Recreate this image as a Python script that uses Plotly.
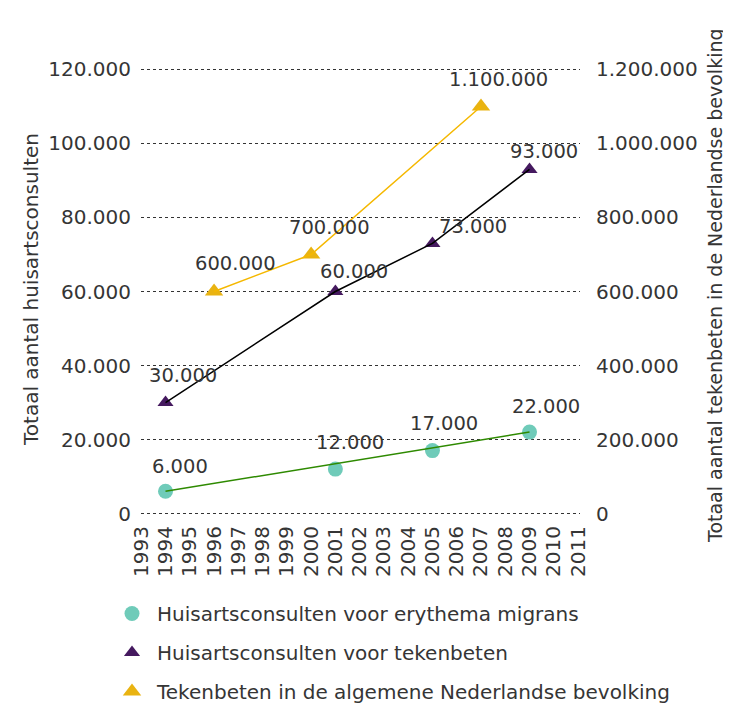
import plotly.graph_objects as go

# ---- data ----
year_ticks = list(range(1993, 2012))
em_years = [1994, 2001, 2005, 2009]
em_values = [6000, 12000, 17000, 22000]
tb_years = [1994, 2001, 2005, 2009]
tb_values = [30000, 60000, 73000, 93000]
pop_years = [1996, 2000, 2007]
pop_values = [600000, 700000, 1100000]
left_ticks = [0, 20000, 40000, 60000, 80000, 100000, 120000]
right_ticks = [0, 200000, 400000, 600000, 800000, 1000000, 1200000]

series_names = [
    "Huisartsconsulten voor erythema migrans",
    "Huisartsconsulten voor tekenbeten",
    "Tekenbeten in de algemene Nederlandse bevolking",
]
left_title = "Totaal aantal huisartsconsulten"
right_title = "Totaal aantal tekenbeten in de Nederlandse bevolking"

# ---- styles ----
FONT = "DejaVu Sans"
TXT = "#353535"
TEAL = "#6fcbb9"
PURPLE = "#45195f"
YELLOW = "#e9b311"
YELLOW_LINE = "#f5b800"
GREEN_LINE = "#2e8a00"


def fmt(v):
    return f"{v:,}".replace(",", ".")


fig = go.Figure()

# markers (also legend entries)
fig.add_trace(go.Scatter(x=em_years, y=em_values, mode="markers", name=series_names[0],
                         legendgroup="a",
                         marker=dict(symbol="circle", size=15, color=TEAL)))
fig.add_trace(go.Scatter(x=tb_years, y=tb_values, mode="markers", name=series_names[1],
                         legendgroup="b",
                         marker=dict(symbol="triangle-up", size=14, color=PURPLE)))
fig.add_trace(go.Scatter(x=pop_years, y=pop_values, mode="markers", name=series_names[2],
                         legendgroup="c", yaxis="y2",
                         marker=dict(symbol="triangle-up", size=16, color=YELLOW)))

# lines
fig.add_trace(go.Scatter(x=[em_years[0], em_years[-1]], y=[em_values[0], em_values[-1]],
                         mode="lines", showlegend=False, hoverinfo="skip",
                         line=dict(color=GREEN_LINE, width=1.5)))
fig.add_trace(go.Scatter(x=tb_years, y=tb_values, mode="lines", showlegend=False,
                         hoverinfo="skip", line=dict(color="black", width=1.5)))
fig.add_trace(go.Scatter(x=pop_years, y=pop_values, mode="lines", showlegend=False,
                         hoverinfo="skip", yaxis="y2",
                         line=dict(color=YELLOW_LINE, width=1.5)))

# data labels
em_shift = [(14, 25), (15, 27), (12, 27), (16, 26)]
tb_shift = [(17, 27), (19, 20), (41, 17), (14, 18)]
pop_shift = [(21, 28), (18, 27), (18, 27)]
annots = []
for xs, ys, shifts, yref in [(em_years, em_values, em_shift, "y"),
                             (tb_years, tb_values, tb_shift, "y"),
                             (pop_years, pop_values, pop_shift, "y2")]:
    for x, y, (dx, dy) in zip(xs, ys, shifts):
        annots.append(dict(x=x, y=y, xref="x", yref=yref, text=fmt(y), showarrow=False,
                           xshift=dx, yshift=dy, font=dict(family=FONT, size=19.5, color=TXT)))

# the page body adds an 8px offset; lay out in reference pixel coordinates minus it
OFF = 8
W, H = 731, 704
L = 141 - OFF
T = 68 - OFF
R = W - (580 - OFF)
B = H - (515 - OFF)
pw, ph = W - L - R, H - T - B


def px(x, y):
    return (x - OFF - L) / pw, (H - (y - OFF) - B) / ph


lx, ly = px(31, 290)
rx, ry = px(715, 286)
annots.append(dict(x=lx, y=ly, xref="paper", yref="paper", text=left_title, showarrow=False,
                   xanchor="center", yanchor="middle",
                   textangle=-90, font=dict(family=FONT, size=20, color=TXT)))
annots.append(dict(x=rx, y=ry, xref="paper", yref="paper", text=right_title, showarrow=False,
                   xanchor="center", yanchor="middle",
                   textangle=-90, font=dict(family=FONT, size=19, color=TXT)))

legx, legy = px(107, 594)

fig.update_layout(
    width=W, height=H,
    margin=dict(l=L, r=R, t=T, b=B, pad=0, autoexpand=False),
    paper_bgcolor="white", plot_bgcolor="white",
    separators=",.",
    font=dict(family=FONT, size=20, color=TXT),
    showlegend=True,
    legend=dict(x=legx, y=legy, xanchor="left", yanchor="top",
                orientation="v", tracegroupgap=10, itemwidth=40,
                font=dict(family=FONT, size=20, color=TXT),
                bgcolor="rgba(0,0,0,0)"),
    annotations=annots,
    xaxis=dict(range=[1992.99, 2011.08], tickmode="array", tickvals=year_ticks,
               ticktext=[str(y) for y in year_ticks], tickangle=-90,
               showgrid=False, zeroline=False, showline=False, automargin=False,
               tickfont=dict(family=FONT, size=20, color=TXT), ticklabelstandoff=6),
    yaxis=dict(range=[-400, 120400], tickmode="array", tickvals=left_ticks,
               ticktext=[fmt(v) for v in left_ticks], automargin=False,
               showgrid=True, gridcolor="#333333", griddash="dot", gridwidth=1,
               zeroline=False, showline=False, ticklabelstandoff=9,
               tickfont=dict(family=FONT, size=20, color=TXT)),
    yaxis2=dict(range=[-4000, 1204000], overlaying="y", side="right", tickmode="array",
                tickvals=right_ticks, ticktext=[fmt(v) for v in right_ticks],
                showgrid=False, zeroline=False, showline=False, ticklabelstandoff=15,
                automargin=False, tickfont=dict(family=FONT, size=20, color=TXT)),
)

fig.write_html("out.html")
